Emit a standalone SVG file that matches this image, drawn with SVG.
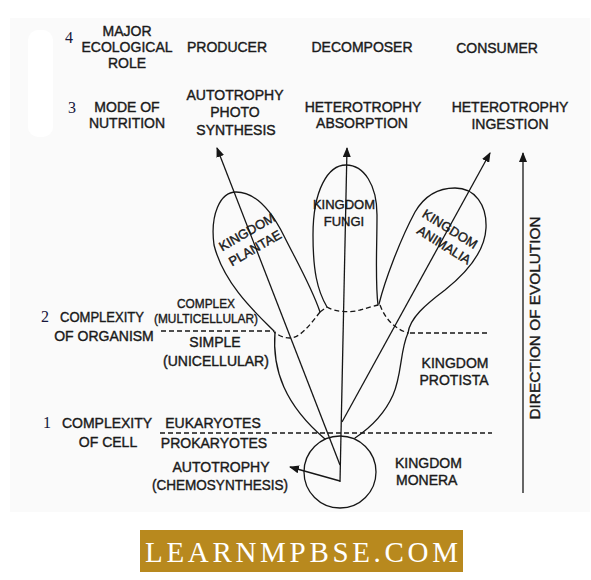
<svg xmlns="http://www.w3.org/2000/svg" width="591" height="580" viewBox="0 0 591 580">
<defs>
<style>
.t{font-family:"Liberation Sans",Arial,sans-serif;font-size:14px;fill:#1a1a1a;text-anchor:middle;stroke:#1a1a1a;stroke-width:0.4}
.s{font-size:13px}
.n{font-family:"Liberation Serif","Times New Roman",serif;font-size:16px;fill:#16163a}
.o{fill:none;stroke:#161616;stroke-width:1.3;stroke-linejoin:round;stroke-linecap:round}
.d{fill:none;stroke:#161616;stroke-width:1.3;stroke-dasharray:5 3}
.a{fill:none;stroke:#161616;stroke-width:1.3}
</style>
<marker id="ah" markerUnits="userSpaceOnUse" markerWidth="10" markerHeight="8" refX="9" refY="4" orient="auto">
<path d="M0,0 L10,4 L0,8 z" fill="#161616"/>
</marker>
</defs>
<rect width="591" height="580" fill="#ffffff"/>
<rect x="10" y="18" width="580" height="494" fill="#fafafa"/>
<rect x="28" y="30" width="25" height="107" rx="10" fill="#ffffff"/>

<g id="row-ecological-role">
<text class="n" x="65" y="43">4</text>
<text class="t" x="127" y="36">MAJOR</text>
<text class="t" x="127" y="52">ECOLOGICAL</text>
<text class="t" x="127" y="68">ROLE</text>
<text class="t" x="227" y="52">PRODUCER</text>
<text class="t" x="362" y="52">DECOMPOSER</text>
<text class="t" x="497" y="53">CONSUMER</text>
</g>

<g id="row-nutrition">
<text class="n" x="68" y="113">3</text>
<text class="t" x="127" y="112">MODE OF</text>
<text class="t" x="127" y="128">NUTRITION</text>
<text class="t" x="235" y="100">AUTOTROPHY</text>
<text class="t" x="235" y="117">PHOTO</text>
<text class="t" x="236" y="135">SYNTHESIS</text>
<text class="t" x="363" y="112">HETEROTROPHY</text>
<text class="t" x="362" y="128">ABSORPTION</text>
<text class="t" x="510" y="112">HETEROTROPHY</text>
<text class="t" x="510" y="129">INGESTION</text>
</g>

<g id="row-organism">
<text class="n" x="41" y="322">2</text>
<text class="t" x="102" y="322" textLength="84" lengthAdjust="spacingAndGlyphs">COMPLEXITY</text>
<text class="t" x="104" y="341">OF ORGANISM</text>
<text class="t s" x="206" y="308" textLength="58" lengthAdjust="spacingAndGlyphs">COMPLEX</text>
<text class="t s" x="206" y="323" textLength="104" lengthAdjust="spacingAndGlyphs">(MULTICELLULAR)</text>
<text class="t" x="215" y="347">SIMPLE</text>
<text class="t" x="216" y="366">(UNICELLULAR)</text>
</g>

<g id="row-cell">
<text class="n" x="43" y="428">1</text>
<text class="t" x="107" y="428">COMPLEXITY</text>
<text class="t" x="108" y="447">OF CELL</text>
<text class="t" x="213" y="428">EUKARYOTES</text>
<text class="t" x="214" y="448">PROKARYOTES</text>
<text class="t" x="221" y="472">AUTOTROPHY</text>
<text class="t" x="220" y="490" textLength="136" lengthAdjust="spacingAndGlyphs">(CHEMOSYNTHESIS)</text>
</g>

<g id="dividers">
<line class="d" x1="161" y1="331" x2="274" y2="331"/>
<line class="d" x1="410" y1="333" x2="488" y2="333"/>
<line class="d" x1="160" y1="433" x2="492" y2="433"/>
</g>

<g id="kingdom-plantae">
<path class="o" d="M274,331 C258,315 224,285 214,245 C210,215 220,192 236,192 C256,192 272,212 284,236 C297,262 312,288 320,312"/>
<path class="d" d="M320,312 C310,325 300,338 290,338 C283,338 278,335 274,332"/>
<path class="d" d="M320,312 L327,307"/>
<g transform="translate(247,232) rotate(-30)"><text class="t s" x="0" y="4.5">KINGDOM</text></g>
<g transform="translate(255,248) rotate(-30)"><text class="t s" x="0" y="4.5">PLANTAE</text></g>
</g>

<g id="kingdom-fungi">
<path class="o" d="M327,307 C317,290 313,270 313,235 C313,190 328,165 346,165 C364,165 377,185 377,215 C377,250 375,280 378,305"/>
<path class="d" d="M327,307 C335,312 350,313 360,310 C368,308 373,306 378,305"/>
<text class="t s" x="344" y="209">KINGDOM</text>
<text class="t s" x="344" y="226">FUNGI</text>
</g>

<g id="kingdom-animalia">
<path class="o" d="M379,304 C385,280 400,240 415,212 C425,195 440,188 455,188 C475,188 487,205 486,228 C485,250 470,270 445,290 C425,305 410,318 408,333"/>
<path class="d" d="M380,305 C385,318 393,328 408,333"/>
<g transform="translate(450,229) rotate(32)"><text class="t s" x="0" y="4.5">KINGDOM</text></g>
<g transform="translate(444,245) rotate(32)"><text class="t s" x="0" y="4.5">ANIMALIA</text></g>
</g>

<g id="kingdom-protista">
<path class="o" d="M275,332 C272,370 285,405 325,439"/>
<path class="o" d="M408,333 C400,350 402,375 393,395 C385,413 370,428 355,438"/>
<text class="t" x="455" y="368">KINGDOM</text>
<text class="t" x="454" y="385">PROTISTA</text>
</g>

<g id="kingdom-monera">
<circle class="o" cx="340" cy="472" r="36"/>
<text class="t" x="395" y="468" style="text-anchor:start">KINGDOM</text>
<text class="t" x="396" y="485" style="text-anchor:start">MONERA</text>
</g>

<g id="connectors">
<line class="a" x1="340" y1="482" x2="347" y2="148" marker-end="url(#ah)"/>
<line class="a" x1="340" y1="465" x2="217" y2="148" marker-end="url(#ah)"/>
<line class="a" x1="342" y1="422" x2="490" y2="153" marker-end="url(#ah)"/>
<line class="a" x1="340" y1="481" x2="290" y2="467" marker-end="url(#ah)"/>
<line class="a" x1="523" y1="493" x2="523" y2="153" marker-end="url(#ah)"/>
</g>

<g id="direction-label">
<g transform="translate(540,318) rotate(-90)"><text class="t" x="0" y="0" style="font-size:15px" textLength="203" lengthAdjust="spacingAndGlyphs">DIRECTION OF EVOLUTION</text></g>
</g>

<g id="watermark">
<rect x="140" y="530" width="323" height="42" fill="#b8891e"/>
<text x="145" y="562" style="font-family:'Liberation Serif','Times New Roman',serif;font-size:29px;fill:#ffffff" textLength="313" lengthAdjust="spacing">LEARNMPBSE.COM</text>
</g>
</svg>
